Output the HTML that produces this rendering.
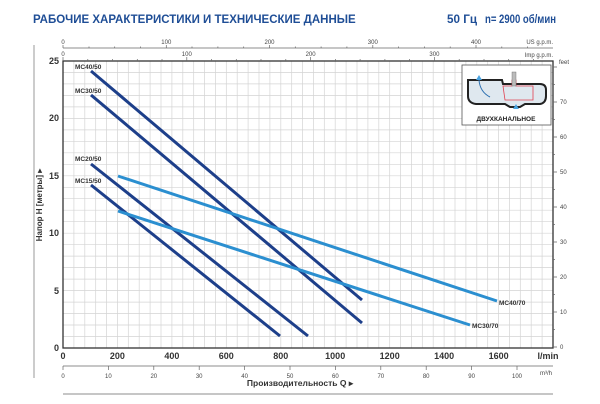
<!DOCTYPE html>
<html><head><meta charset="utf-8"><style>
html,body{margin:0;padding:0;background:#fff;}
svg{display:block;font-family:"Liberation Sans",sans-serif;}
</style></head><body>
<svg width="600" height="404" viewBox="0 0 600 404" xmlns="http://www.w3.org/2000/svg">
<text x="33" y="23" font-size="11.5" font-weight="bold" fill="#1f4e96">РАБОЧИЕ ХАРАКТЕРИСТИКИ И ТЕХНИЧЕСКИЕ ДАННЫЕ</text>
<text x="447" y="23" font-size="11.5" font-weight="bold" fill="#1f4e96" textLength="30" lengthAdjust="spacingAndGlyphs">50 Гц</text>
<text x="485" y="23" font-size="11.5" font-weight="bold" fill="#1f4e96" textLength="71" lengthAdjust="spacingAndGlyphs">n= 2900 об/мин</text>
<line x1="34" y1="45" x2="34" y2="378" stroke="#999" stroke-width="1"/>
<g stroke="#d4d4d4" stroke-width="0.7">
<path d="M73.9 61V348M84.8 61V348M95.7 61V348M106.6 61V348M117.4 61V348M128.3 61V348M139.2 61V348M150.1 61V348M161 61V348M171.9 61V348M182.8 61V348M193.7 61V348M204.6 61V348M215.4 61V348M226.3 61V348M237.2 61V348M248.1 61V348M259 61V348M269.9 61V348M280.8 61V348M291.7 61V348M302.6 61V348M313.4 61V348M324.3 61V348M335.2 61V348M346.1 61V348M357 61V348M367.9 61V348M378.8 61V348M389.7 61V348M400.6 61V348M411.4 61V348M422.3 61V348M433.2 61V348M444.1 61V348M455 61V348M465.9 61V348M476.8 61V348M487.7 61V348M498.6 61V348M509.4 61V348M520.3 61V348M531.2 61V348M542.1 61V348"/>
<path d="M63 336.5H553M63 325H553M63 313.5H553M63 302.1H553M63 290.6H553M63 279.1H553M63 267.6H553M63 256.1H553M63 244.7H553M63 233.2H553M63 221.7H553M63 210.2H553M63 198.7H553M63 187.3H553M63 175.8H553M63 164.3H553M63 152.8H553M63 141.3H553M63 129.9H553M63 118.4H553M63 106.9H553M63 95.4H553M63 83.9H553M63 72.5H553"/>
</g>
<rect x="63" y="61" width="490" height="287" fill="none" stroke="#333" stroke-width="1.3"/>
<g stroke="#666" stroke-width="0.7" fill="none">
<line x1="63" y1="48" x2="553" y2="48"/>
<path d="M63 45V48M166.3 45V48M269.5 45V48M372.8 45V48M476 45V48M89 46.5V48M114.7 46.5V48M140.5 46.5V48M192 46.5V48M217.9 46.5V48M243.7 46.5V48M295.3 46.5V48M321.1 46.5V48M346.9 46.5V48M398.6 46.5V48M424.4 46.5V48M450.2 46.5V48M501.8 46.5V48M527.6 46.5V48"/>
<path d="M63 57V61M186.8 57V61M310.6 57V61M434.4 57V61M87.8 59V61M112.5 59V61M137.3 59V61M162 59V61M211.5 59V61M236.3 59V61M261 59V61M285.8 59V61M335.4 59V61M360.1 59V61M384.9 59V61M409.6 59V61M459.2 59V61M484 59V61M508.7 59V61M533.5 59V61"/>
</g>
<g font-size="6" fill="#444" text-anchor="middle">
<text x="63" y="44">0</text><text x="166.3" y="44">100</text><text x="269.5" y="44">200</text><text x="372.8" y="44">300</text><text x="476" y="44">400</text>
<text x="553" y="44" text-anchor="end">US g.p.m.</text>
<text x="63" y="56">0</text><text x="186.8" y="56">100</text><text x="310.6" y="56">200</text><text x="434.4" y="56">300</text>
<text x="553" y="57" text-anchor="end">Imp g.p.m.</text>
</g>
<g font-size="9" font-weight="bold" fill="#333" text-anchor="end">
<text x="59" y="64">25</text><text x="59" y="121">20</text><text x="59" y="179">15</text><text x="59" y="236">10</text><text x="59" y="294">5</text><text x="59" y="351">0</text>
</g>
<text transform="translate(42,205) rotate(-90)" font-size="8" font-weight="bold" fill="#333" text-anchor="middle">Напор H [метры]  ▸</text>
<g stroke="#666" stroke-width="0.7">
<path d="M553 347H557M553 312H557M553 277H557M553 242H557M553 207H557M553 172H557M553 137H557M553 102H557M553 67H557M553 329.5H555M553 294.5H555M553 259.5H555M553 224.5H555M553 189.5H555M553 154.5H555M553 119.5H555M553 84.5H555"/>
</g>
<g font-size="6" fill="#444">
<text x="560" y="349">0</text><text x="560" y="314">10</text><text x="560" y="279">20</text><text x="560" y="244">30</text><text x="560" y="209">40</text><text x="560" y="174">50</text><text x="560" y="139">60</text><text x="560" y="104">70</text><text x="559" y="64">feet</text>
</g>
<g font-size="9" font-weight="bold" fill="#333" text-anchor="middle">
<text x="63" y="359">0</text><text x="117.4" y="359">200</text><text x="171.9" y="359">400</text><text x="226.3" y="359">600</text><text x="280.8" y="359">800</text><text x="335.2" y="359">1000</text><text x="389.7" y="359">1200</text><text x="444.1" y="359">1400</text><text x="498.6" y="359">1600</text><text x="548" y="359">l/min</text>
</g>
<line x1="63" y1="366" x2="553" y2="366" stroke="#666" stroke-width="0.7"/>
<g stroke="#666" stroke-width="0.7"><path d="M63 366V370M108.4 366V370M153.8 366V370M199.2 366V370M244.6 366V370M290 366V370M335.4 366V370M380.8 366V370M426.2 366V370M471.6 366V370M517 366V370"/></g>
<g font-size="6" fill="#444" text-anchor="middle">
<text x="63" y="378">0</text><text x="108.4" y="378">10</text><text x="153.8" y="378">20</text><text x="199.2" y="378">30</text><text x="244.6" y="378">40</text><text x="290" y="378">50</text><text x="335.4" y="378">60</text><text x="380.8" y="378">70</text><text x="426.2" y="378">80</text><text x="471.6" y="378">90</text><text x="517" y="378">100</text><text x="546" y="375">m³/h</text>
</g>
<text x="300" y="386" font-size="8.5" font-weight="bold" fill="#333" text-anchor="middle">Производительность Q  ▸</text>
<line x1="63" y1="394" x2="553" y2="394" stroke="#666" stroke-width="0.8"/>
<g stroke-width="3" stroke-linecap="butt">
<line x1="91" y1="71" x2="362" y2="300" stroke="#1d3f8a"/>
<line x1="91" y1="95" x2="362" y2="323" stroke="#1d3f8a"/>
<line x1="91" y1="164" x2="308" y2="336" stroke="#1d3f8a"/>
<line x1="91" y1="185" x2="280" y2="336" stroke="#1d3f8a"/>
<line x1="118" y1="176" x2="497" y2="301" stroke="#2b8fd0"/>
<line x1="118" y1="211" x2="470" y2="325" stroke="#2b8fd0"/>
</g>
<g font-size="6.5" font-weight="bold" fill="#333">
<text x="75" y="69">MC40/50</text><text x="75" y="93">MC30/50</text><text x="75" y="161">MC20/50</text><text x="75" y="183">MC15/50</text>
<text x="499" y="305">MC40/70</text><text x="472" y="328">MC30/70</text>
</g>
<rect x="462" y="65" width="89" height="60" fill="#fff" stroke="#555" stroke-width="0.8"/>
<path d="M468 80 L468 96 Q468 103 476 104 L505 104 L510 107 L520 107 L525 104 L540 104 Q546 103 546 96 L546 90 Q546 84 540 84 L503 84 L502 80 Z" fill="#dfe8ef" stroke="#222" stroke-width="2"/>
<path d="M503 86 L512 86 L512 80 L516 80 L516 86 L533 86 L533 100 L505 100 Z" fill="none" stroke="#e04050" stroke-width="0.8"/>
<rect x="512" y="72" width="4" height="14" fill="#bbb" stroke="#666" stroke-width="0.4"/>
<path d="M490 97 Q480 92 479 80" fill="none" stroke="#2b6fb0" stroke-width="1"/>
<path d="M476 80 L479 75 L482 80 Z M513 109 L516 104 L519 109 Z" fill="#4aa3e0"/>
<text x="506" y="121" font-size="6.5" font-weight="bold" fill="#222" text-anchor="middle">ДВУХКАНАЛЬНОЕ</text>
</svg>
</body></html>
